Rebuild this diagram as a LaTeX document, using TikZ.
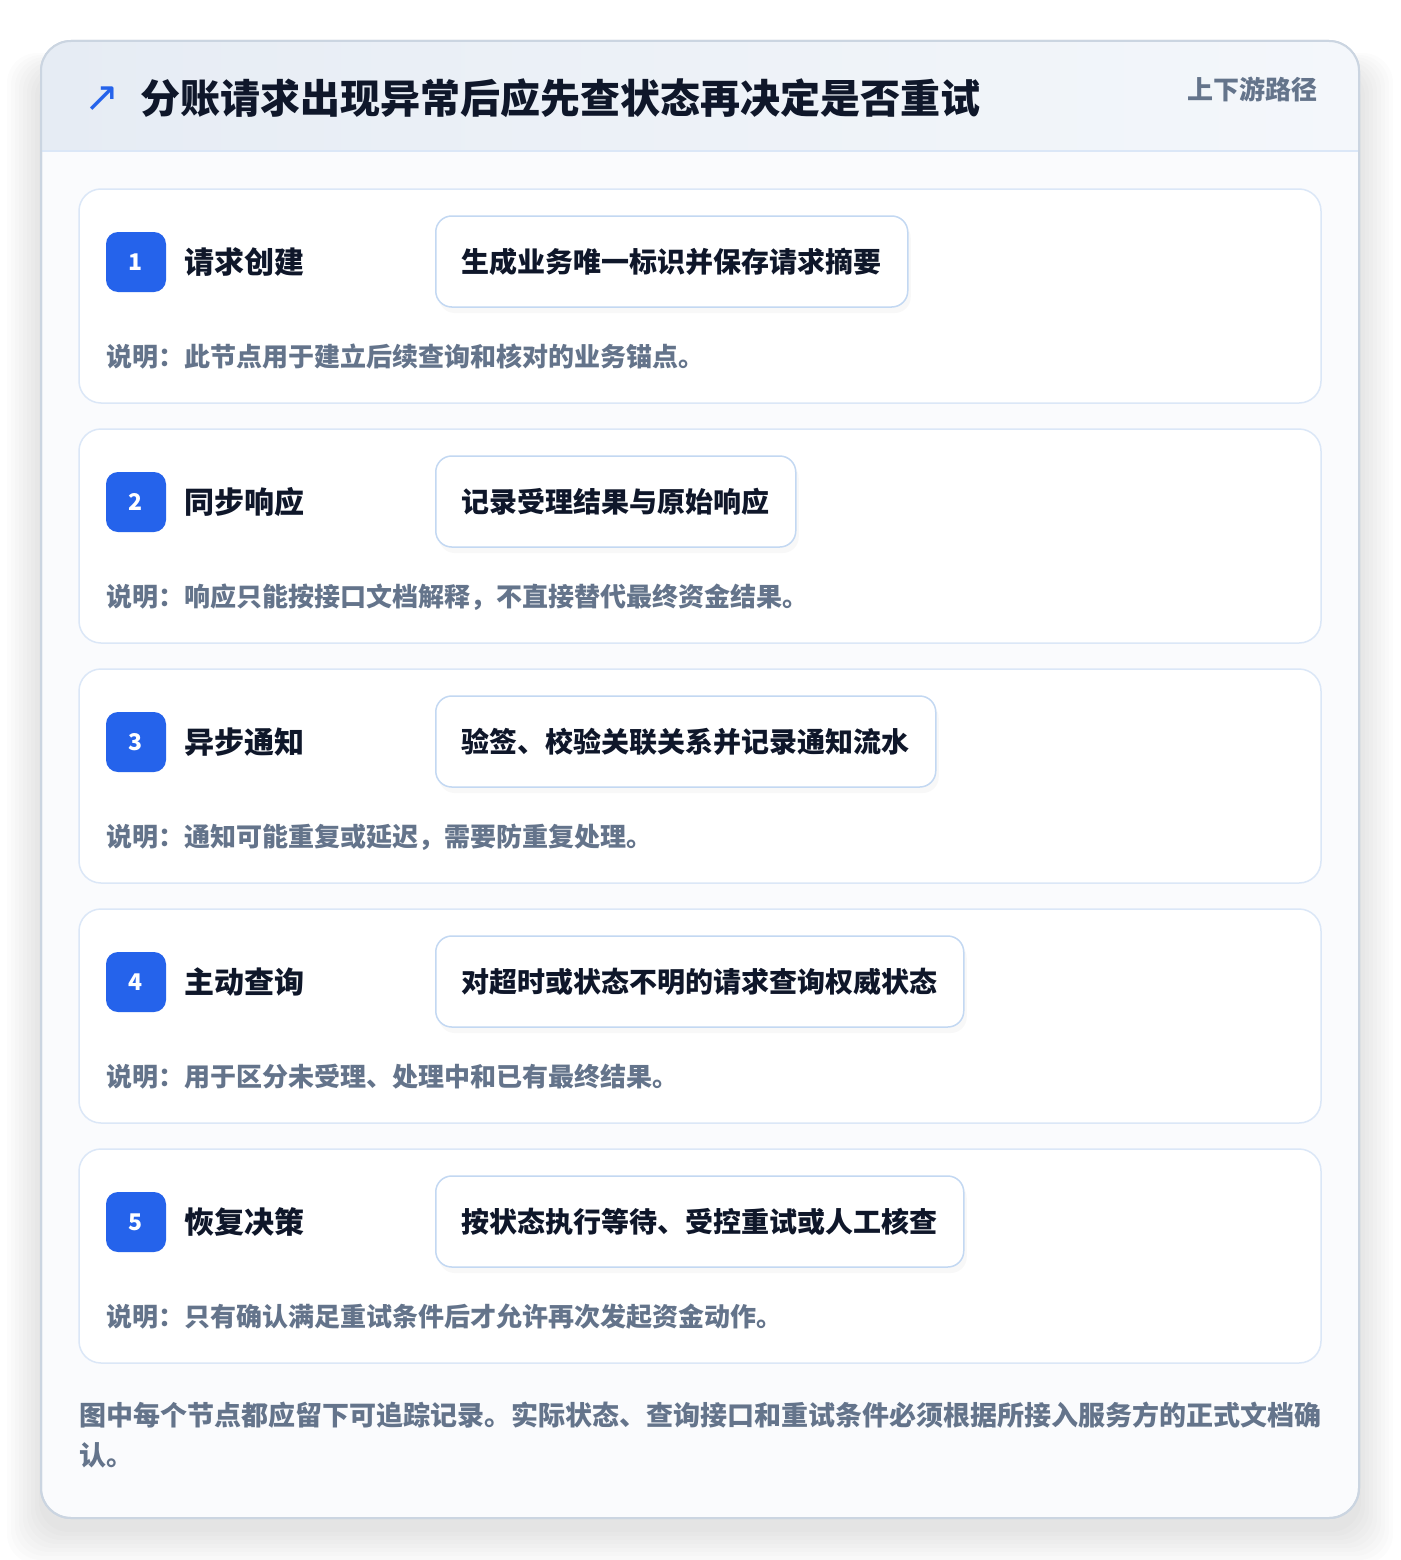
\documentclass[tikz,border=0pt]{standalone}
\usepackage{fontspec}
\setmainfont{Noto Sans CJK SC}
\newfontfamily\symfont{DejaVu Sans}
\usetikzlibrary{positioning}
\usetikzlibrary{shadows}
\definecolor{mblue}{HTML}{2563EB}
\definecolor{mink}{HTML}{0F172A}
\definecolor{mgray}{HTML}{64748B}
\definecolor{mline}{HTML}{DBE7F7}
\definecolor{mboxline}{HTML}{C3D8F2}
\definecolor{mframe}{HTML}{CBD5E1}
\definecolor{mhead}{HTML}{E6ECF4}
\definecolor{mheadr}{HTML}{F4F7FB}
\definecolor{mbody}{HTML}{FAFBFD}
\tikzset{card/.style = {draw=mline, fill=white, line width=1.5pt, rounded corners=22pt}}
\tikzset{badge/.style = {fill=mblue, rounded corners=12pt, minimum size=60pt, inner sep=0,
                         text=white, font=\bfseries\fontsize{23}{23}\selectfont}}
\tikzset{stagename/.style = {anchor=west, inner sep=0, text=mink, font=\bfseries\fontsize{30}{30}\selectfont}}
\tikzset{actbox/.style = {anchor=west, draw=mboxline, fill=white, line width=1.5pt, rounded corners=16pt,
                          inner xsep=26pt, minimum height=91pt, text=mink, font=\bfseries\fontsize{28}{28}\selectfont,
                          drop shadow={opacity=0.05, shadow xshift=3pt, shadow yshift=-6pt}}}
\tikzset{note/.style = {anchor=west, inner sep=0, text=mgray, font=\bfseries\fontsize{26}{26}\selectfont}}

\begin{document}
\begin{tikzpicture}[x=1pt, y=-1pt]
      \useasboundingbox (0, 0) rectangle (1400, 1560);
      \fill [white] (0, 0) rectangle (1400, 1560);

      % soft shadow under the frame
      \foreach \r in {2, 6, ..., 34}
        \fill [black, opacity=0.01, rounded corners=30pt] (41-\r, 70-0.5*\r) rectangle (1359+\r, 1530+\r);

      \draw [fill=mbody, draw=mframe, line width=2pt, rounded corners=30pt] (41, 41) rectangle (1359, 1518);
      \begin{scope}
        \clip [rounded corners=30pt] (41, 41) rectangle (1359, 1518);
        \shade [left color=mhead, right color=mheadr] (41, 41) rectangle (1359, 151);
      \end{scope}
      \draw [mline, line width=1.5pt] (42, 151) -- (1358, 151);
      \draw [draw=mframe, line width=2pt, rounded corners=30pt] (41, 41) rectangle (1359, 1518);

      \node [text=mblue, font=\symfont\fontsize{42}{42}\selectfont, inner sep=0] (icon) at (102, 99) {↗};
      \node [anchor=west, inner sep=0, text=mink, font=\bfseries\fontsize{40}{40}\selectfont] (title) at (140, 98)
        {分账请求出现异常后应先查状态再决定是否重试};
      \node [anchor=east, inner sep=0, text=mgray, font=\bfseries\fontsize{26}{26}\selectfont] (tag) at (1318, 89)
        {上下游路径};

      \begin{scope}
        \draw [card] (79, 189) rectangle (1321, 403);
        \node [badge] (n1) at (136, 262) {1};
        \node [stagename, right=18pt of n1] (s1) {请求创建};
        \node [actbox] (a1) at (435, 261.5) {生成业务唯一标识并保存请求摘要};
        \node [note] (d1) at (106, 357) {说明：此节点用于建立后续查询和核对的业务锚点。};
      \end{scope}

      \begin{scope}[shift={(0, 240)}]
        \draw [card] (79, 189) rectangle (1321, 403);
        \node [badge] (n2) at (136, 262) {2};
        \node [stagename, right=18pt of n2] (s2) {同步响应};
        \node [actbox] (a2) at (435, 261.5) {记录受理结果与原始响应};
        \node [note] (d2) at (106, 357) {说明：响应只能按接口文档解释，不直接替代最终资金结果。};
      \end{scope}

      \begin{scope}[shift={(0, 480)}]
        \draw [card] (79, 189) rectangle (1321, 403);
        \node [badge] (n3) at (136, 262) {3};
        \node [stagename, right=18pt of n3] (s3) {异步通知};
        \node [actbox] (a3) at (435, 261.5) {验签、校验关联关系并记录通知流水};
        \node [note] (d3) at (106, 357) {说明：通知可能重复或延迟，需要防重复处理。};
      \end{scope}

      \begin{scope}[shift={(0, 720)}]
        \draw [card] (79, 189) rectangle (1321, 403);
        \node [badge] (n4) at (136, 262) {4};
        \node [stagename, right=18pt of n4] (s4) {主动查询};
        \node [actbox] (a4) at (435, 261.5) {对超时或状态不明的请求查询权威状态};
        \node [note] (d4) at (106, 357) {说明：用于区分未受理、处理中和已有最终结果。};
      \end{scope}

      \begin{scope}[shift={(0, 960)}]
        \draw [card] (79, 189) rectangle (1321, 403);
        \node [badge] (n5) at (136, 262) {5};
        \node [stagename, right=18pt of n5] (s5) {恢复决策};
        \node [actbox] (a5) at (435, 261.5) {按状态执行等待、受控重试或人工核查};
        \node [note] (d5) at (106, 357) {说明：只有确认满足重试条件后才允许再次发起资金动作。};
      \end{scope}

      \node [note, font=\bfseries\fontsize{27}{27}\selectfont] (foot1) at (79, 1415)
        {图中每个节点都应留下可追踪记录。实际状态、查询接口和重试条件必须根据所接入服务方的正式文档确};
      \node [note, font=\bfseries\fontsize{27}{27}\selectfont, below=14pt of foot1.south west, anchor=north west] (foot2)
        {认。};
    \end{tikzpicture}
\end{document}
